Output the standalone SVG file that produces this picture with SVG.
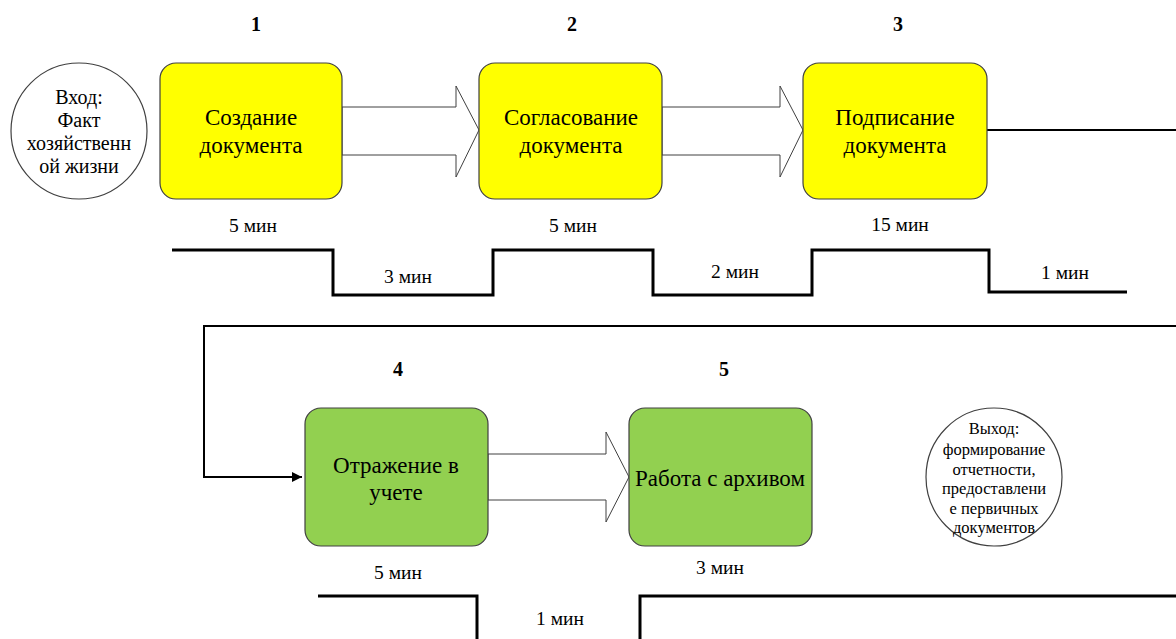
<svg xmlns="http://www.w3.org/2000/svg" width="1176" height="639" viewBox="0 0 1176 639" font-family="'Liberation Serif', 'DejaVu Serif', serif">
<defs>
<style>
text{fill:#000;text-anchor:middle;dominant-baseline:central}
.box{stroke:#404040;stroke-width:1.2}
.y{fill:#FFFF00}
.g{fill:#92D050}
.circ{fill:#fff;stroke:#404040;stroke-width:1.2}
.blk{fill:#fff;stroke:#404040;stroke-width:1}
.ln{fill:none;stroke:#000;stroke-width:2}
.step{fill:none;stroke:#000;stroke-width:3}
.num{font-size:20px;font-weight:bold}
.bt{font-size:23px}
.mn{font-size:19.5px}
.ct{font-size:20px}
.ot{font-size:16.5px}
</style>
<marker id="ah" viewBox="0 0 10 10" refX="10" refY="5" markerWidth="5" markerHeight="5" markerUnits="strokeWidth" orient="auto">
<path d="M0,0 L10,5 L0,10 z" fill="#000"/>
</marker>
</defs>
<rect width="1176" height="639" fill="#fff"/>

<g id="connectors">
<polygon class="blk" points="342,107 456,107 456,86 479,130 456,177 456,155 342,155"/>
<polygon class="blk" points="662,107 780,107 780,86 803,130 780,177 780,155 662,155"/>
<polygon class="blk" points="488,454 606,454 606,432 629,477 606,522 606,500 488,500"/>
<polyline class="ln" points="987,130 1176,130"/>
<polyline class="ln" points="1176,326 204,326 204,477 302,477" marker-end="url(#ah)"/>
</g>

<g id="timeline">
<polyline class="step" points="172,250 333,250 333,295 493,295 493,250 653,250 653,295 812,295 812,250 989,250 989,292 1127,292"/>
<polyline class="step" points="318,596 477,596 477,639"/>
<polyline class="step" points="640,639 640,596 1176,596"/>
<text class="mn" x="253" y="225">5 мин</text>
<text class="mn" x="408" y="276">3 мин</text>
<text class="mn" x="573" y="225">5 мин</text>
<text class="mn" x="735" y="271">2 мин</text>
<text class="mn" x="900" y="224">15 мин</text>
<text class="mn" x="1065" y="272">1 мин</text>
<text class="mn" x="398" y="572">5 мин</text>
<text class="mn" x="560" y="618">1 мин</text>
<text class="mn" x="720" y="567">3 мин</text>
</g>

<g id="numbers">
<text class="num" x="256" y="24">1</text>
<text class="num" x="572" y="24">2</text>
<text class="num" x="898" y="24">3</text>
<text class="num" x="398" y="369">4</text>
<text class="num" x="724" y="369">5</text>
</g>

<g id="input">
<ellipse class="circ" cx="79" cy="131" rx="68" ry="68"/>
<text class="ct" x="79" y="97">Вход:</text>
<text class="ct" x="79" y="120">Факт</text>
<text class="ct" x="79" y="143">хозяйственн</text>
<text class="ct" x="79" y="166">ой жизни</text>
</g>

<g id="node1">
<rect class="box y" x="160" y="63" width="182" height="136" rx="16"/>
<text class="bt" x="251" y="117">Создание</text>
<text class="bt" x="251" y="145">документа</text>
</g>

<g id="node2">
<rect class="box y" x="479" y="63" width="183" height="136" rx="16"/>
<text class="bt" x="571" y="117">Согласование</text>
<text class="bt" x="571" y="145">документа</text>
</g>

<g id="node3">
<rect class="box y" x="803" y="63" width="184" height="136" rx="16"/>
<text class="bt" x="895" y="117">Подписание</text>
<text class="bt" x="895" y="145">документа</text>
</g>

<g id="node4">
<rect class="box g" x="305" y="408" width="183" height="138" rx="16"/>
<text class="bt" x="396" y="465">Отражение в</text>
<text class="bt" x="396" y="492">учете</text>
</g>

<g id="node5">
<rect class="box g" x="629" y="408" width="183" height="138" rx="16"/>
<text class="bt" x="720" y="478">Работа с архивом</text>
</g>

<g id="output">
<ellipse class="circ" cx="994" cy="477" rx="68" ry="69"/>
<text class="ot" x="994" y="428">Выход:</text>
<text class="ot" x="994" y="449">формирование</text>
<text class="ot" x="994" y="469">отчетности,</text>
<text class="ot" x="994" y="488">предоставлени</text>
<text class="ot" x="994" y="508">е первичных</text>
<text class="ot" x="994" y="527">документов</text>
</g>
</svg>
